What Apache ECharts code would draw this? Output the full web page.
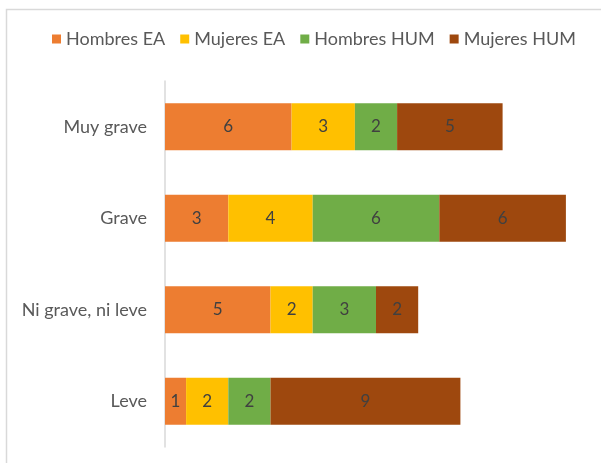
<!DOCTYPE html>
<html>
<head>
<meta charset="utf-8">
<script src="https://cdn.jsdelivr.net/npm/echarts@6/dist/echarts.min.js"></script>
<style>
  html, body { margin: 0; padding: 0; background: #fff; }
  #chart { width: 601px; height: 463px; }
</style>
</head>
<body>
<div id="chart"></div>
<script>
// categorias de abajo hacia arriba (eje Y de categorias)
var categorias = ['Leve', 'Ni grave, ni leve', 'Grave', 'Muy grave'];
var hombresEA  = [1, 5, 3, 6];
var mujeresEA  = [2, 2, 4, 3];
var hombresHUM = [2, 3, 6, 2];
var mujeresHUM = [9, 2, 6, 5];

var chart = echarts.init(document.getElementById('chart'));

function serie(nombre, datos, color) {
  return {
    name: nombre,
    type: 'bar',
    stack: 'total',
    barWidth: 47,
    data: datos,
    itemStyle: { color: color },
    label: {
      show: true,
      position: 'inside',
      color: '#404040',
      fontFamily: 'Lato',
      fontSize: 17
    }
  };
}

chart.setOption({
  animation: false,
  textStyle: { fontFamily: 'Lato' },
  graphic: [{
    type: 'rect',
    shape: { x: 6.5, y: 9.5, width: 620, height: 480 },
    style: { fill: 'none', stroke: '#d9d9d9', lineWidth: 1.5 },
    silent: true
  }],
  legend: {
    top: 30,
    left: 52,
    padding: 0,
    itemWidth: 9,
    itemHeight: 9,
    itemGap: 15,
    icon: 'rect',
    textStyle: { color: '#595959', fontSize: 18, fontFamily: 'Lato' }
  },
  grid: { left: 165, right: 14, top: 81, bottom: 16, containLabel: false },
  xAxis: {
    type: 'value',
    min: 0,
    max: 20,
    show: false
  },
  yAxis: {
    type: 'category',
    data: categorias,
    axisLine: { show: true, lineStyle: { color: '#d9d9d9', width: 1.5 } },
    axisTick: { show: false },
    axisLabel: { color: '#595959', fontSize: 18, fontFamily: 'Lato', margin: 18 }
  },
  series: [
    serie('Hombres EA', hombresEA, '#ED7D31'),
    serie('Mujeres EA', mujeresEA, '#FFC000'),
    serie('Hombres HUM', hombresHUM, '#70AD47'),
    serie('Mujeres HUM', mujeresHUM, '#9E480E')
  ]
});
</script>
</body>
</html>
